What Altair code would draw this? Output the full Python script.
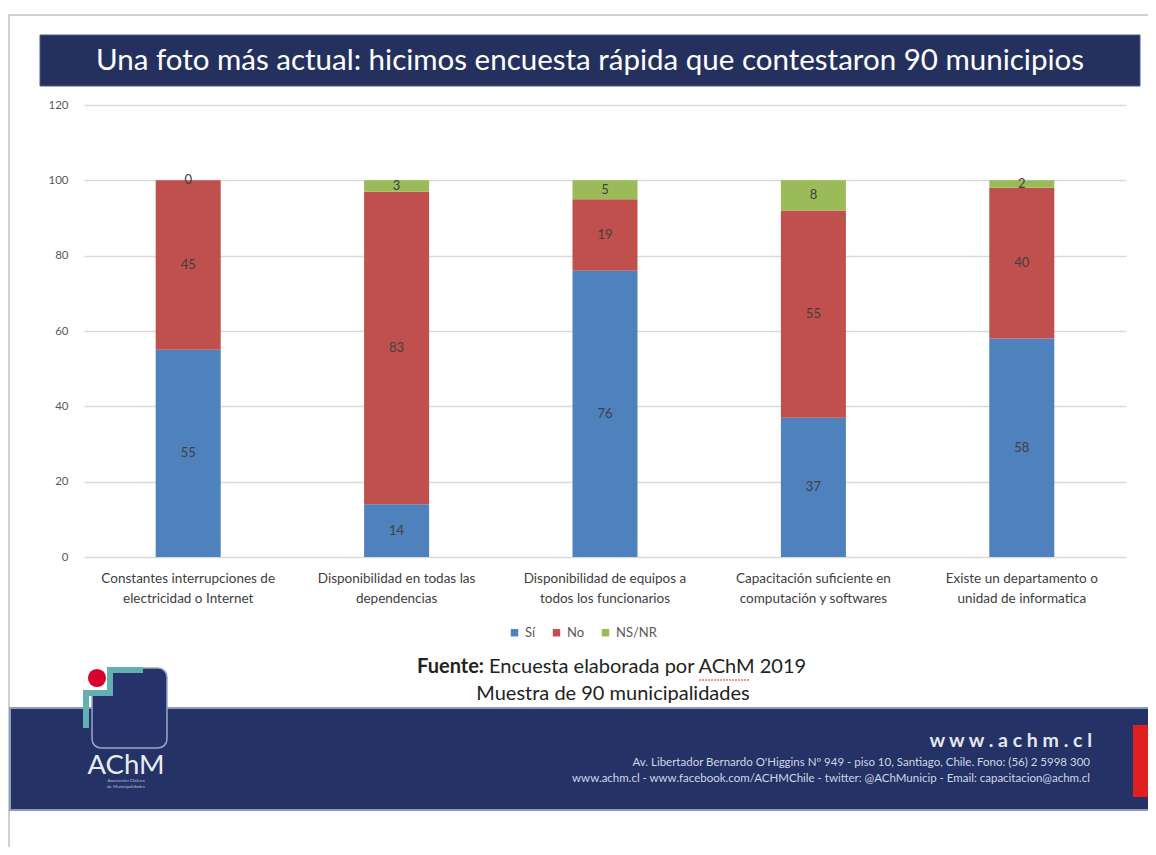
import altair as alt
import pandas as pd

# ---------------- data ----------------
categories = [
    "Constantes interrupciones de|electricidad o Internet",
    "Disponibilidad en todas las|dependencias",
    "Disponibilidad de equipos a|todos los funcionarios",
    "Capacitación suficiente en|computación y softwares",
    "Existe un departamento o|unidad de informatica",
]
series = ["Sí", "No", "NS/NR"]
si_values = [55, 14, 76, 37, 58]
no_values = [45, 83, 19, 55, 40]
nsnr_values = [0, 3, 5, 8, 2]
series_colors = ["#4F81BD", "#C0504D", "#9BBB59"]
y_ticks = [0, 20, 40, 60, 80, 100, 120]

title_text = "Una foto más actual: hicimos encuesta rápida que contestaron 90 municipios"
source_bold = "Fuente:"
source_rest = "Encuesta elaborada por AChM 2019"
source_line2 = "Muestra de 90 municipalidades"
web_text = "w w w . a c h m . c l"
address_1 = "Av. Libertador Bernardo O'Higgins Nº 949 - piso 10, Santiago, Chile.  Fono: (56) 2 5998 300"
address_2 = "www.achm.cl -  www.facebook.com/ACHMChile  - twitter: @AChMunicip - Email: capacitacion@achm.cl"

rows = []
for i, c in enumerate(categories):
    for j, (s, vals) in enumerate(zip(series, [si_values, no_values, nsnr_values])):
        rows.append({"cat": c, "serie": s, "ord": j, "value": vals[i]})
df = pd.DataFrame(rows)

# ---------------- layout helpers ----------------
OX, OY = 84, 105          # plot-area origin on the page
W, H = 1042, 452
PAD = {"left": OX - 8, "top": OY - 8, "right": 1140 - (OX - 8) - W, "bottom": 839 - (OY - 8) - H}

def X(p):
    return p - OX

def Y(p):
    return p - OY

FONT = "Lato"
NAVY = "#24315F"
one = pd.DataFrame({"k": [0]})

def rect(x1, y1, x2, y2, color, **kw):
    return alt.Chart(one).mark_rect(color=color, **kw).encode(
        x=alt.value(X(x1)), x2=alt.value(X(x2)), y=alt.value(Y(y1)), y2=alt.value(Y(y2))
    )

def label(txt, x, y, **kw):
    return alt.Chart(one).mark_text(text=txt, font=FONT, **kw).encode(
        x=alt.value(X(x)), y=alt.value(Y(y))
    )

# ---------------- chart ----------------
x_enc = alt.X(
    "cat:N",
    sort=categories,
    scale=alt.Scale(paddingInner=0.688, paddingOuter=0.344),
    axis=alt.Axis(
        title=None, labelAngle=0, labelExpr="split(datum.label, '|')",
        ticks=False, domain=False, labelFont=FONT, labelFontSize=13.5,
        labelColor="#404040", labelPadding=21, labelLineHeight=20, labelBaseline="middle",
    ),
)
y_scale = alt.Scale(domain=[0, 120], nice=False)

bars = alt.Chart(df).mark_bar().encode(
    x=x_enc,
    y=alt.Y(
        "value:Q", stack="zero", scale=y_scale,
        axis=alt.Axis(
            title=None, values=y_ticks, ticks=False, domain=False,
            labelFont=FONT, labelFontSize=11.5, labelColor="#595959", labelPadding=16,
            gridColor="#D9D9D9", gridWidth=1.3,
        ),
    ),
    color=alt.Color(
        "serie:N",
        scale=alt.Scale(domain=series, range=series_colors),
        legend=alt.Legend(
            title=None, orient="none", direction="horizontal",
            legendX=X(508), legendY=Y(626), symbolType="square", symbolSize=55,
            labelFont=FONT, labelFontSize=13, labelColor="#595959", columnPadding=14,
            symbolStrokeWidth=0,
        ),
    ),
    order=alt.Order("ord:Q"),
)

value_labels = (
    alt.Chart(df)
    .transform_stack(stack="value", groupby=["cat"], as_=["y0", "y1"],
                     sort=[alt.SortField("ord", order="ascending")])
    .transform_calculate(mid="(datum.y0 + datum.y1) / 2")
    .mark_text(font=FONT, fontSize=13, color="#404040")
    .encode(x=alt.X("cat:N", sort=categories), y=alt.Y("mid:Q", scale=y_scale), text="value:Q")
)

# frame of the slide (outline only, so the axes stay visible)
frame = rect(9, 15, 1300, 1000, "#FFFFFF", fillOpacity=0, stroke="#D0D0D0", strokeWidth=2)

# title banner
banner = rect(40, 35, 1140, 86, NAVY, stroke="#4A5A8A", strokeWidth=1)
title = label(title_text, 590, 61, fontSize=29.5, color="#FFFFFF", align="center", baseline="middle")

# source lines
src1 = label(source_bold, 484, 667, fontSize=20, fontWeight="bold", color="#222222", align="right", baseline="middle")
src2 = label(source_rest, 489, 667, fontSize=20, color="#222222", align="left", baseline="middle")
src3 = label(source_line2, 613, 694, fontSize=20, color="#222222", align="center", baseline="middle")
squiggle = alt.Chart(one).mark_rule(color="#E03030", strokeWidth=1.2, strokeDash=[2, 1]).encode(
    x=alt.value(X(699)), x2=alt.value(X(750)), y=alt.value(Y(680))
)

# footer band
footer = rect(10, 708, 1300, 810, "#243266", stroke="#8C9BBE", strokeWidth=2)
red_box = rect(1133, 725, 1300, 797, "#E02020")
web = label(web_text, 1092, 741, fontSize=19.5, fontWeight="bold", color="#E4E8F0", align="right", baseline="middle")
addr1 = label(address_1, 1090, 763, fontSize=11.5, color="#D0D6E4", align="right", baseline="middle")
addr2 = label(address_2, 1090, 779, fontSize=11.5, color="#D0D6E4", align="right", baseline="middle")

# logo
logo_box = rect(92, 668, 167, 748, "#26336A", stroke="#9AA8C8", strokeWidth=1.5, cornerRadius=9)
logo_cut = rect(88, 663, 111, 693, "#FFFFFF")
teal = "#62B0B2"
t1 = rect(107, 667, 143, 673, teal)
t2 = rect(107, 667, 113, 696, teal)
t3 = rect(83, 690, 113, 696, teal)
t4 = rect(83, 690, 89, 728, teal)
dot = alt.Chart(one).mark_circle(color="#D9002B", opacity=1, size=330).encode(
    x=alt.value(X(97)), y=alt.value(Y(678))
)
logo_txt = label("AChM", 126, 766, fontSize=27.5, color="#E8ECF4", align="center", baseline="middle")
logo_sub1 = label("Asociación Chilena", 126, 781, fontSize=4.5, color="#B8C2D8", align="center", baseline="middle")
logo_sub2 = label("de Municipalidades", 126, 787, fontSize=4.5, color="#B8C2D8", align="center", baseline="middle")

chart = alt.layer(
    frame, banner, title, bars, value_labels, src1, src2, src3, squiggle,
    footer, red_box, web, addr1, addr2,
    logo_box, logo_cut, t1, t2, t3, t4, dot, logo_txt, logo_sub1, logo_sub2,
).properties(
    width=W, height=H, padding=PAD, autosize=alt.AutoSizeParams(type="none"),
    background="#FFFFFF",
).configure_view(stroke=None)

chart.save("out.html", embed_options={"renderer": "svg", "actions": False})
